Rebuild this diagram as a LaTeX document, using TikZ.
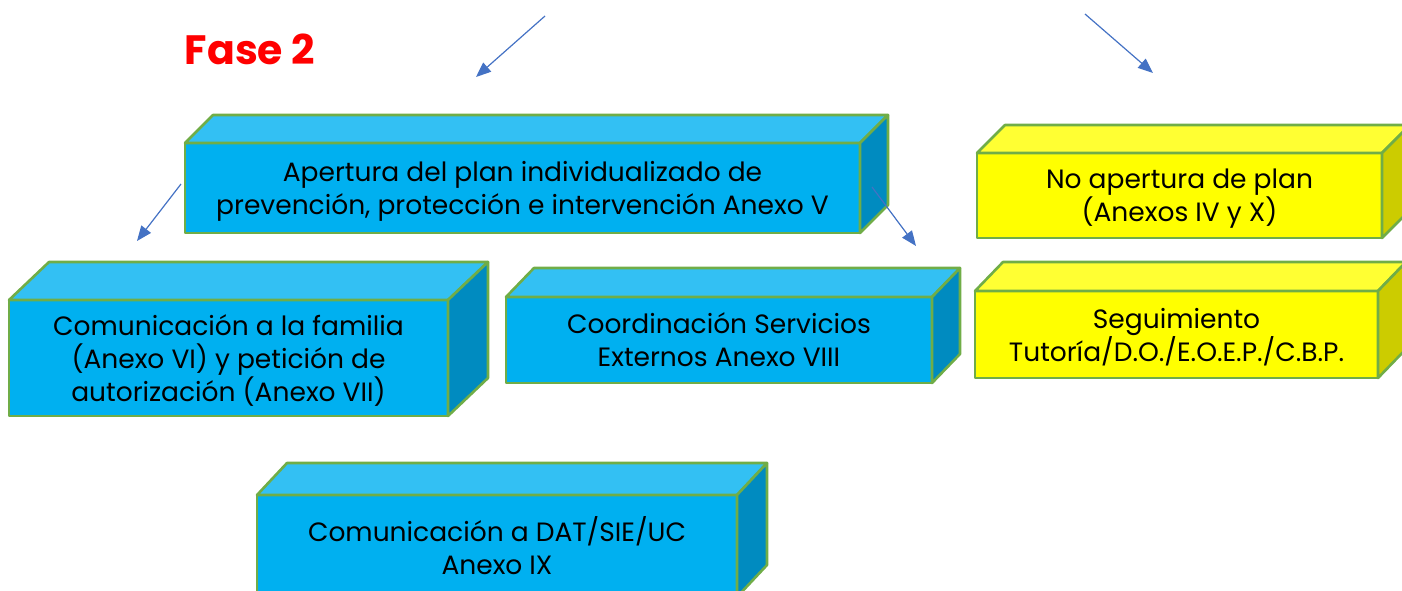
\documentclass[tikz,border=0pt]{standalone}
\usepackage{fontspec}
\setmainfont{Poppins}
\usetikzlibrary{arrows.meta,calc,positioning}

\definecolor{cajaazul}{HTML}{00B0F0}
\definecolor{techoazul}{HTML}{33C0F3}
\definecolor{ladoazul}{HTML}{008BC0}
\definecolor{cajaamarilla}{HTML}{FFFF00}
\definecolor{techoamarillo}{HTML}{FFFF33}
\definecolor{ladoamarillo}{HTML}{CCCC00}
\definecolor{borde}{HTML}{70AD47}
\definecolor{flecha}{HTML}{4472C4}

\tikzstyle{line} = [draw=flecha, line width=1.2pt, -{Triangle[length=15pt,width=12pt]}]

\begin{document}
\begin{tikzpicture}[
            x = 1pt, y = -1pt, % pixel grid, y down
            line join = round
        ]

        \tikzstyle{caja}=[
            draw = borde,
            line width = 2.6pt,
            anchor = north west,
            align = center,
            inner sep = 0pt,
            outer sep = 0pt,
            text depth = -3pt,
            font = \fontsize{26.5}{33}\selectfont
        ]

        \useasboundingbox (0,0) rectangle (1402,590);

        \node[text=red, font=\fontsize{41}{50}\selectfont\bfseries] (fase) at (250,49) {Fase 2};

        \node[caja, fill=cajaazul, minimum width=675pt, minimum height=90pt] (apertura) at (185,143)
            {Apertura del plan individualizado de\\prevención, protección e intervención Anexo V};
        \node[caja, fill=cajaazul, minimum width=439pt, minimum height=116pt] (familia) at (9,300)
            {Comunicación a la familia\\(Anexo VI) y petición de\\autorización (Anexo VII)};
        \node[caja, fill=cajaazul, minimum width=426pt, minimum height=86pt] (coordinacion) at (506,297)
            {Coordinación Servicios\\Externos Anexo VIII};
        \node[caja, fill=cajaamarilla, minimum width=405pt, minimum height=85pt] (noapertura) at (977,153)
            {No apertura de plan\\(Anexos IV y X)};
        \node[caja, fill=cajaamarilla, minimum width=403pt, minimum height=87pt] (seguimiento) at (975,291)
            {Seguimiento\\Tutoría/D.O./E.O.E.P./C.B.P.};
        \node[caja, fill=cajaazul, minimum width=480pt, minimum height=102pt] (dat) at (257,495)
            {Comunicación a DAT/SIE/UC\\Anexo IX};

        % top and side faces
        \foreach \n/\dx/\dy/\techo/\lado in {
                apertura/28/-28/techoazul/ladoazul,
                familia/40/-38/techoazul/ladoazul,
                coordinacion/28/-29/techoazul/ladoazul,
                noapertura/28/-28/techoamarillo/ladoamarillo,
                seguimiento/28/-29/techoamarillo/ladoamarillo,
                dat/30/-32/techoazul/ladoazul} {
            \filldraw[draw=borde, line width=2.6pt, fill=\techo]
                (\n.north west) -- ++(\dx,\dy) -- ($(\n.north east)+(\dx,\dy)$) -- (\n.north east) -- cycle;
            \filldraw[draw=borde, line width=2.6pt, fill=\lado]
                (\n.north east) -- ++(\dx,\dy) -- ($(\n.south east)+(\dx,\dy)$) -- (\n.south east) -- cycle;
        }

        \coordinate (f1a) at (545,16);
        \coordinate (f1b) at (476,77);
        \coordinate (f2a) at (1085,14);
        \coordinate (f2b) at (1153,73);
        \coordinate (f3a) at (181,184);
        \coordinate (f3b) at (137,241);
        \coordinate (f4a) at (872,187);
        \coordinate (f4b) at (916,246);

        \path[line] (f1a) -- (f1b);
        \path[line] (f2a) -- (f2b);
        \path[line] (f3a) -- (f3b);
        \path[line] (f4a) -- (f4b);

    \end{tikzpicture}
\end{document}
